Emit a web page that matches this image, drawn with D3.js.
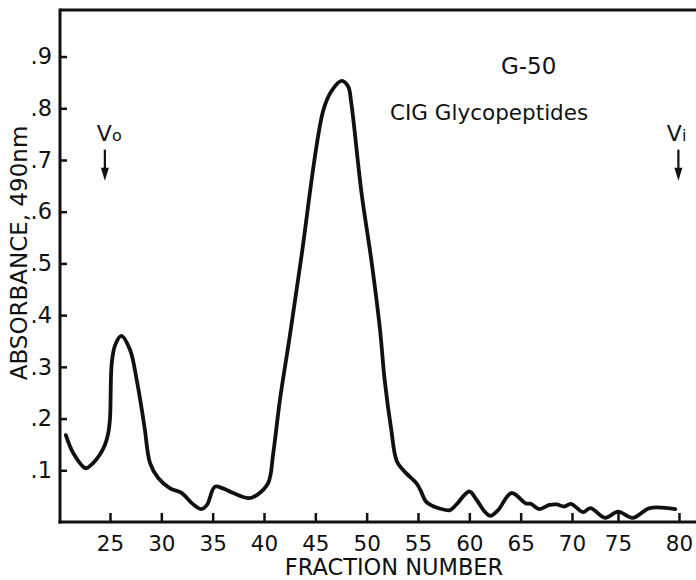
<!DOCTYPE html>
<html>
<head>
<meta charset="utf-8">
<script src="https://cdn.jsdelivr.net/npm/d3@7"></script>
<style>
  html, body { margin: 0; padding: 0; background: #fff; }
  svg { display: block; }
  text { font-family: "DejaVu Sans", sans-serif; fill: #111; }
</style>
</head>
<body>
<div id="chart"></div>
<script>
// ---- data ----
const fractions = [20.7, 21.43, 22.64, 23.35, 24.0, 24.5, 24.83, 25.0, 25.17, 25.5, 26.1, 26.95, 27.6, 28.1, 28.4, 28.9,
  29.7, 30.85, 32.0, 33.0, 33.9, 34.45, 35.2, 36.0, 37.0, 38.5, 39.3, 40.4, 40.9, 41.55, 42.5, 43.6, 45.75,
  46.56, 47.57, 48.2, 48.5, 49.5, 50.45, 51.3, 51.75, 52.4, 52.95, 53.86, 54.84, 55.3, 55.8, 57.1, 58.1,
  58.7, 60.0, 60.7, 61.5, 62.05, 62.8, 64.1, 65.5, 66.0, 66.8, 67.8, 68.5, 69.26, 69.9, 71.2, 72.0, 73.6,
  75.0, 76.2, 77.6, 79.7];
const absorbance = [0.168, 0.133, 0.104, 0.114, 0.130, 0.149, 0.172, 0.20, 0.307, 0.342, 0.360, 0.333, 0.275, 0.217, 0.178, 0.114,
  0.085, 0.065, 0.056, 0.036, 0.025, 0.033, 0.068, 0.065, 0.056, 0.046, 0.052, 0.075, 0.133, 0.236, 0.358, 0.507, 0.794,
  0.833, 0.853, 0.842, 0.81, 0.636, 0.507, 0.372, 0.275, 0.178, 0.117, 0.094, 0.075, 0.059, 0.039, 0.026, 0.023,
  0.033, 0.059, 0.043, 0.020, 0.012, 0.023, 0.056, 0.036, 0.035, 0.025, 0.033, 0.034, 0.030, 0.035, 0.019, 0.027, 0.008,
  0.020, 0.008, 0.027, 0.025];
const xTickValues = [25, 30, 35, 40, 45, 50, 55, 60, 65, 70, 75, 80];
const yTickValues = [0.1, 0.2, 0.3, 0.4, 0.5, 0.6, 0.7, 0.8, 0.9];
const xTitle = "FRACTION NUMBER";
const yTitle = "ABSORBANCE, 490nm";
const titleLines = ["G-50", "CIG Glycopeptides"];
const markerLabels = ["V", "V"];
const markerSubs = ["o", "i"];
const markerFractions = [24.5, 79.95];

// ---- layout ----
const W = 696, H = 580;
const mLeft = 60, mTop = 10, mBottom = 522, mRight = 696;

const svg = d3.select("#chart").append("svg").attr("width", W).attr("height", H);

// hand-ruled fraction axis (uneven spacing of the last ticks)
const x = d3.scaleLinear().domain([25, 70, 75, 80]).range([110, 572, 618, 679]);
const y = d3.scaleLinear().domain([0, 0.99]).range([mBottom, mTop]);

// frame
const frame = svg.append("g").attr("stroke", "#111").attr("fill", "none").attr("stroke-width", 3);
frame.append("line").attr("x1", mLeft).attr("x2", mRight).attr("y1", mTop).attr("y2", mTop);
frame.append("line").attr("x1", mLeft).attr("x2", mLeft).attr("y1", mTop - 1.5).attr("y2", mBottom + 1.5);
frame.append("line").attr("x1", mLeft - 1.5).attr("x2", mRight).attr("y1", mBottom).attr("y2", mBottom);

// y axis
const yAxis = svg.append("g").attr("transform", `translate(${mLeft},0)`)
  .call(d3.axisLeft(y).tickValues(yTickValues).tickSize(-7).tickPadding(8)
    .tickFormat(d => d3.format(".1f")(d).replace(/^0/, "")));
yAxis.select(".domain").remove();
yAxis.selectAll(".tick line").attr("stroke", "#111").attr("stroke-width", 2.5);
yAxis.selectAll(".tick text").attr("font-size", 22.5).attr("font-family", "DejaVu Sans").attr("fill", "#111");

// x axis
const xAxis = svg.append("g").attr("transform", `translate(0,${mBottom})`)
  .call(d3.axisBottom(x).tickValues(xTickValues).tickSize(-9).tickPadding(14));
xAxis.select(".domain").remove();
xAxis.selectAll(".tick line").attr("stroke", "#111").attr("stroke-width", 2.5);
xAxis.selectAll(".tick text").attr("font-size", 21.5).attr("font-family", "DejaVu Sans").attr("fill", "#111");

// axis titles
svg.append("text").attr("x", 394).attr("y", 575).attr("text-anchor", "middle")
  .attr("font-size", 22.5).text(xTitle);
svg.append("text").attr("transform", `translate(27,253) rotate(-90)`).attr("text-anchor", "middle")
  .attr("font-size", 23).text(yTitle);

// curve
const pts = fractions.map((f, i) => ({f, a: absorbance[i]}));
const line = d3.line().x(d => x(d.f)).y(d => y(d.a)).curve(d3.curveCatmullRom.alpha(0.5));
svg.append("path").datum(pts).attr("d", line).attr("fill", "none")
  .attr("stroke", "#111").attr("stroke-width", 3.8).attr("stroke-linejoin", "round").attr("stroke-linecap", "round");

// annotations
svg.append("text").attr("x", 501).attr("y", 74).attr("font-size", 23).text(titleLines[0]);
svg.append("text").attr("x", 390).attr("y", 120).attr("font-size", 21.5).text(titleLines[1]);

markerFractions.forEach((f, i) => {
  const cx = x(f);
  const first = i === 0;
  const t = svg.append("text").attr("x", first ? cx - 8 : cx + 8).attr("y", y(0.736))
    .attr("text-anchor", first ? "start" : "end");
  t.append("tspan").attr("font-size", 22).text(markerLabels[i]);
  t.append("tspan").attr("font-size", 16).text(markerSubs[i]);
  const y1 = y(0.72), y2 = y(0.66);
  svg.append("line").attr("x1", cx).attr("x2", cx).attr("y1", y1).attr("y2", y2 - 8)
    .attr("stroke", "#111").attr("stroke-width", 2.2);
  svg.append("path").attr("d", `M${cx - 4},${y2 - 13}L${cx + 4},${y2 - 13}L${cx},${y2}Z`).attr("fill", "#111");
});
</script>
</body>
</html>
